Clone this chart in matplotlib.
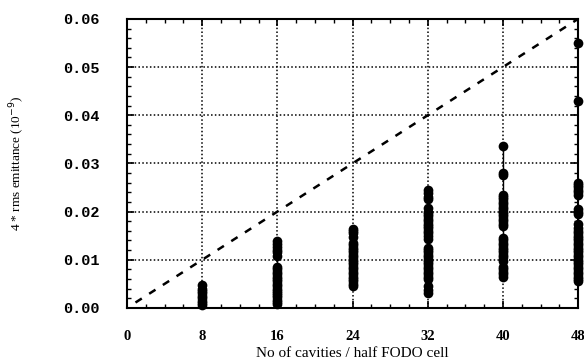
import matplotlib
matplotlib.use("Agg")
import matplotlib.pyplot as plt
from matplotlib.ticker import MultipleLocator

# Data
x_ticks = [0, 8, 16, 24, 32, 40, 48]
y_ticks = [0.00, 0.01, 0.02, 0.03, 0.04, 0.05, 0.06]
y_tick_labels = ["0.00", "0.01", "0.02", "0.03", "0.04", "0.05", "0.06"]

emit_8 = [0.0005, 0.001, 0.0015, 0.002, 0.0025, 0.003, 0.0035, 0.004, 0.0048]
emit_16 = [0.0008, 0.0012, 0.0017, 0.0022, 0.0027, 0.003, 0.0035, 0.004, 0.0045,
           0.005, 0.0055, 0.006, 0.0065, 0.007, 0.0075, 0.008, 0.0085,
           0.0108, 0.0115, 0.012, 0.0127, 0.0133, 0.0138]
emit_24 = [0.0045, 0.005, 0.0055, 0.006, 0.0065, 0.007, 0.0075, 0.008, 0.0085,
           0.009, 0.0095, 0.010, 0.0105, 0.011, 0.0115, 0.012, 0.0125, 0.013,
           0.0135, 0.0148, 0.0155, 0.016, 0.0163]
emit_32 = [0.003, 0.0038, 0.0045, 0.006, 0.0065, 0.007, 0.0075, 0.008, 0.0085,
           0.009, 0.0095, 0.010, 0.0105, 0.011, 0.0115, 0.012, 0.0125,
           0.0142, 0.015, 0.0155, 0.016, 0.0165, 0.017, 0.0175, 0.018, 0.0185,
           0.019, 0.0195, 0.020, 0.0207, 0.0225, 0.023, 0.0238, 0.0245]
emit_40 = [0.0065, 0.007, 0.0075, 0.008, 0.0085, 0.0097, 0.0105, 0.011, 0.0115,
           0.012, 0.0125, 0.013, 0.0135, 0.014, 0.0145, 0.017, 0.0175, 0.018,
           0.0185, 0.019, 0.0195, 0.020, 0.0205, 0.021, 0.0215, 0.022, 0.0225,
           0.023, 0.0235, 0.0275, 0.028, 0.0335]
emit_48 = [0.0055, 0.006, 0.0065, 0.007, 0.0075, 0.008, 0.0085, 0.009, 0.0095,
           0.010, 0.0105, 0.011, 0.0115, 0.012, 0.0125, 0.013, 0.0135, 0.014,
           0.0145, 0.015, 0.0155, 0.016, 0.0165, 0.0175, 0.0195, 0.020, 0.0205,
           0.0235, 0.024, 0.0245, 0.025, 0.0255, 0.026, 0.043, 0.055]

groups = {8: emit_8, 16: emit_16, 24: emit_24, 32: emit_32, 40: emit_40, 48: emit_48}

limit_x = [0.9, 48]
limit_y = [0.0011, 0.060]

fig = plt.figure(figsize=(5.84, 3.63), dpi=100)
ax = fig.add_axes([0.2175, 0.152, 0.7725, 0.796])

ax.plot(limit_x, limit_y, color="black", lw=1.8, ls=(0, (3, 3.5)), zorder=3)

for cav, vals in groups.items():
    ax.plot([cav] * len(vals), vals, "o", color="black", ms=7, mew=0,
            clip_on=False, zorder=4)
    ax.plot([cav, cav], [min(vals), max(vals)], color="black", lw=1, zorder=3)

ax.set_xlim(0, 48)
ax.set_ylim(0, 0.06)
ax.set_xticks(x_ticks)
ax.set_yticks(y_ticks)
ax.set_yticklabels(y_tick_labels)
ax.xaxis.set_minor_locator(MultipleLocator(2))
ax.yaxis.set_minor_locator(MultipleLocator(0.002))
ax.tick_params(which="both", direction="in", top=True, right=True, color="black")
ax.tick_params(which="major", length=5, width=1.2)
ax.tick_params(which="minor", length=3, width=1)
ax.tick_params(axis="x", pad=16)
ax.tick_params(axis="y", pad=20)
for lab in ax.get_yticklabels():
    lab.set_family("Liberation Mono")
    lab.set_fontweight("bold")
    lab.set_fontsize(11)
for lab in ax.get_xticklabels():
    lab.set_family("Liberation Serif")
    lab.set_fontweight("bold")
    lab.set_fontsize(10.5)

ax.grid(True, which="major", color="black", ls=(0, (1, 1.5)), lw=1.1)
for s in ax.spines.values():
    s.set_linewidth(1.5)

ax.set_xlabel("No of cavities / half FODO cell", family="Liberation Serif",
              fontsize=11, labelpad=3)
ax.set_ylabel("4 * rms emittance (10$^{-9}$)", family="Liberation Serif",
              fontsize=9.5, labelpad=26)

fig.savefig("out.png", dpi=100)
